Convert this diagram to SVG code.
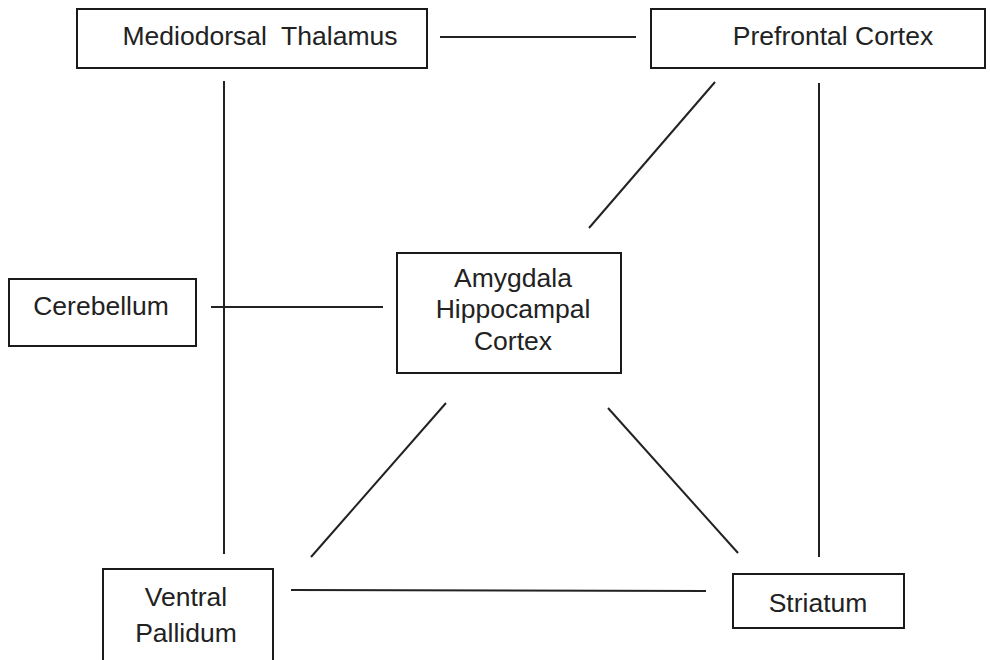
<svg xmlns="http://www.w3.org/2000/svg" width="990" height="660" viewBox="0 0 990 660">
<style>
.box{fill:#fff;stroke:#1a1a1a;stroke-width:2}
.lbl{font-family:"Liberation Sans",Arial,sans-serif;font-size:26.5px;fill:#222;text-anchor:middle}
.edge{stroke:#222;stroke-width:2;fill:none}
</style>
<rect width="990" height="660" fill="#fff"/>
<g id="connectors">
<line class="edge" x1="440" y1="37" x2="636" y2="37"/>
<line class="edge" x1="224" y1="81" x2="224" y2="554"/>
<line class="edge" x1="819" y1="83" x2="819" y2="557"/>
<line class="edge" x1="715" y1="82" x2="589" y2="228"/>
<line class="edge" x1="211" y1="307" x2="383" y2="307"/>
<line class="edge" x1="446" y1="403" x2="311" y2="557"/>
<line class="edge" x1="608" y1="408" x2="738" y2="553"/>
<line class="edge" x1="291" y1="590" x2="706" y2="591"/>
</g>
<g id="mediodorsal-thalamus">
<rect class="box" x="77" y="9" width="350" height="59"/>
<text class="lbl" x="260" y="45" xml:space="preserve">Mediodorsal  Thalamus</text>
</g>
<g id="prefrontal-cortex">
<rect class="box" x="651" y="9" width="334" height="59"/>
<text class="lbl" x="833" y="45">Prefrontal Cortex</text>
</g>
<g id="cerebellum">
<rect class="box" x="9" y="279" width="187" height="67"/>
<text class="lbl" x="101" y="315">Cerebellum</text>
</g>
<g id="amygdala-hippocampal-cortex">
<rect class="box" x="397" y="253" width="224" height="120"/>
<text class="lbl" x="513" y="287">Amygdala</text>
<text class="lbl" x="513" y="318">Hippocampal</text>
<text class="lbl" x="513" y="350">Cortex</text>
</g>
<g id="ventral-pallidum">
<rect class="box" x="103" y="569" width="170" height="100"/>
<text class="lbl" x="186" y="606">Ventral</text>
<text class="lbl" x="186" y="642">Pallidum</text>
</g>
<g id="striatum">
<rect class="box" x="733" y="574" width="171" height="54"/>
<text class="lbl" x="818" y="612">Striatum</text>
</g>
</svg>
